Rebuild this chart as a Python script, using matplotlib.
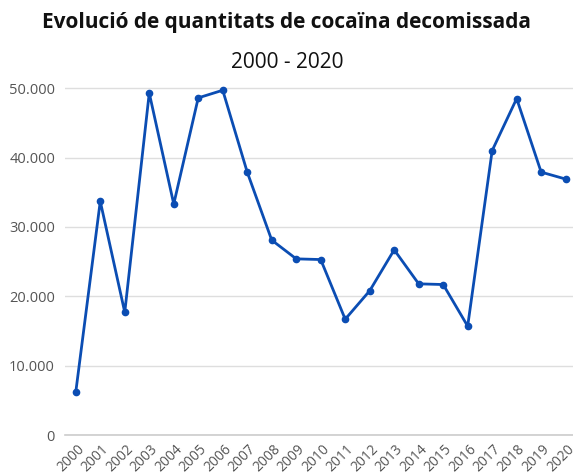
import matplotlib.pyplot as plt
import matplotlib.transforms as mtransforms
import numpy as np

years = [str(y) for y in range(2000, 2021)]
values = [6200, 33700, 17700, 49300, 33300, 48600, 49700, 37900, 28100, 25400,
          25300, 16700, 20800, 26700, 21800, 21700, 15700, 41000, 48500, 37900, 36900]
yticks = [0, 10000, 20000, 30000, 40000, 50000]
ylabels = ["0", "10.000", "20.000", "30.000", "40.000", "50.000"]

plt.rcParams['font.family'] = ['Open Sans', 'DejaVu Sans']

fig = plt.figure(figsize=(5.73, 4.75), dpi=100)
ax = fig.add_axes([0.113, 0.084, 0.887, 0.745])

x = np.arange(len(years))
ax.plot(x, values, color='#0b4db3', lw=2.0, marker='o', ms=4.5, zorder=3, clip_on=False)

ax.set_xlim(-0.45, 20.3)
ax.set_ylim(0, 51000)
ax.set_yticks(yticks)
ax.set_yticklabels(ylabels)
ax.set_xticks(x)
ax.set_xticklabels(years, rotation=45, ha='center')

ax.grid(axis='y', color='#dedede', lw=1)
ax.set_axisbelow(True)
for s in ['top', 'right', 'left']:
    ax.spines[s].set_visible(False)
ax.spines['bottom'].set_color('#cccccc')
ax.spines['bottom'].set_linewidth(1.2)
ax.tick_params(axis='y', length=0, colors='#555555', labelsize=10.5, pad=7)
ax.tick_params(axis='x', length=0, colors='#555555', labelsize=10, pad=5)

# shift the rotated year labels a bit to the left, like the original
offset = mtransforms.ScaledTranslation(-5 / 100, 0, fig.dpi_scale_trans)
for lab in ax.get_xticklabels():
    lab.set_transform(lab.get_transform() + offset)

fig.text(0.5, 0.952, "Evolució de quantitats de cocaïna decomissada",
         ha='center', va='center', fontsize=15, fontweight='bold', color='#111111')
fig.text(0.502, 0.869, "2000 - 2020", ha='center', va='center', fontsize=15, color='#111111')

fig.savefig("out.png", dpi=100)
